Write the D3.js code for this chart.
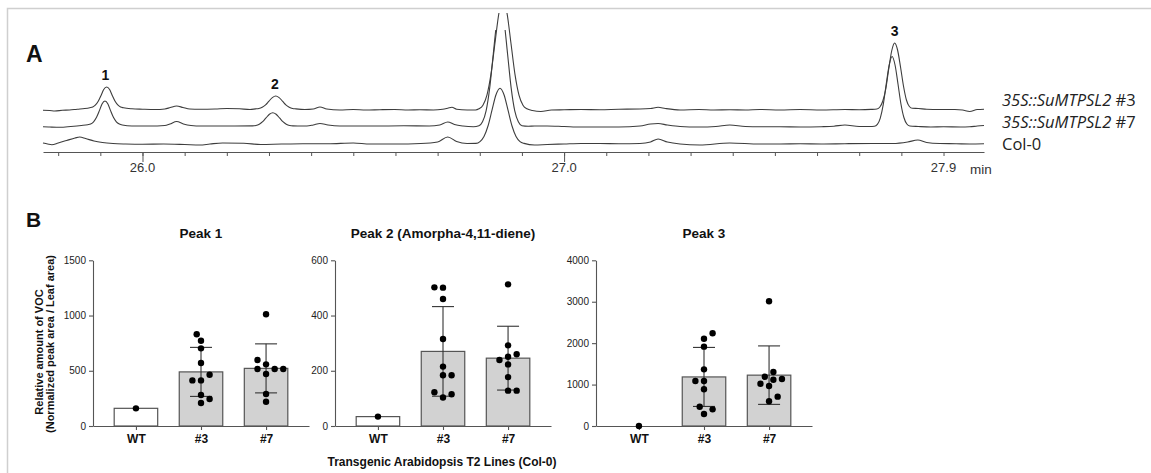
<!DOCTYPE html>
<html>
<head>
<meta charset="utf-8">
<script src="https://cdn.jsdelivr.net/npm/d3@7"></script>
<style>
  html, body { margin: 0; padding: 0; background: #fff; }
  svg { display: block; }
</style>
</head>
<body>
<svg id="fig" width="1151" height="473"></svg>
<script>
// ---------------- Panel A: GC-MS chromatogram traces ----------------
// [retention time (min), relative intensity]
const trace3 = [[25.764,-0.3],[25.780,-0.5],[25.792,-1],[25.810,-0.3],[25.827,0],[25.845,0.8],[25.863,1.5],[25.875,2.3],[25.882,3],[25.888,4.8],[25.895,8.7],[25.902,14.8],[25.908,20.5],[25.915,23],[25.922,20.5],[25.928,14.8],[25.935,8.7],[25.942,4.8],[25.948,3],[25.955,2.2],[25.975,1.2],[26.000,0.8],[26.030,0.5],[26.053,1],[26.066,2.5],[26.081,4],[26.096,2.5],[26.112,1],[26.136,0.8],[26.172,1],[26.200,1.5],[26.230,1.2],[26.255,0.5],[26.268,1.1],[26.276,1.5],[26.284,2.8],[26.292,5.2],[26.300,8.9],[26.308,12.4],[26.316,14],[26.324,12.4],[26.332,8.9],[26.340,5.2],[26.348,2.8],[26.356,1.5],[26.364,1.1],[26.385,0.5],[26.405,1],[26.421,3],[26.437,1],[26.468,0],[26.500,0.5],[26.530,0],[26.563,0.3],[26.598,0.5],[26.630,0],[26.658,0.2],[26.690,0],[26.712,0.8],[26.724,1.8],[26.734,2.7],[26.745,0.8],[26.770,0],[26.790,0],[26.798,1.2],[26.8075,4.8],[26.817,14.9],[26.8265,35.6],[26.836,66.7],[26.8455,97],[26.855,110],[26.8645,97],[26.874,66.7],[26.8835,35.6],[26.893,14.9],[26.9025,4.8],[26.912,1.2],[26.925,-0.5],[26.945,-1.5],[26.970,0],[27.000,0.2],[27.040,0.5],[27.085,0.3],[27.130,0.8],[27.180,1],[27.205,1.5],[27.223,2.7],[27.240,1.5],[27.275,0],[27.320,0.5],[27.355,0],[27.393,0.3],[27.430,0],[27.464,0.5],[27.512,0],[27.560,0.5],[27.610,0],[27.666,0.5],[27.700,0.3],[27.728,0.6],[27.742,1],[27.749,3],[27.756,9],[27.763,21],[27.770,41],[27.777,59],[27.784,67],[27.791,60],[27.798,43],[27.805,24],[27.812,10],[27.819,3.5],[27.826,1.7],[27.840,1.5],[27.860,0.8],[27.890,0.5],[27.927,0.5],[27.945,0],[27.962,-1.5],[27.980,0.5],[27.996,0.8]];

const trace7 = [[25.764,0.3],[25.780,0],[25.804,-0.3],[25.830,0.5],[25.855,1.5],[25.870,2.3],[25.877,3],[25.884,5.2],[25.891,9.7],[25.898,16.6],[25.904,23.1],[25.911,26],[25.918,23.1],[25.924,16.6],[25.931,9.7],[25.938,5.2],[25.945,3],[25.952,2],[25.975,1],[26.017,1],[26.053,1.5],[26.065,3],[26.081,5.5],[26.097,3],[26.115,1.5],[26.140,1],[26.172,1],[26.219,1],[26.261,1.1],[26.269,1.5],[26.277,2.8],[26.285,5.3],[26.293,9.1],[26.301,12.7],[26.309,14.3],[26.317,12.7],[26.325,9.1],[26.333,5.3],[26.341,2.8],[26.349,1.5],[26.357,1.1],[26.390,1],[26.405,2],[26.421,3.5],[26.440,2],[26.468,1],[26.515,1],[26.563,1],[26.620,1.2],[26.680,1],[26.705,2],[26.724,5],[26.740,2.5],[26.760,1],[26.785,0.3],[26.798,1.3],[26.8065,5.3],[26.815,16.2],[26.8235,38.9],[26.832,72.8],[26.8405,105.9],[26.849,120],[26.8575,105.9],[26.866,72.8],[26.8745,38.9],[26.883,16.2],[26.8915,5.3],[26.900,1.3],[26.915,0.8],[26.930,1],[26.960,1],[27.000,0.5],[27.040,0],[27.085,0],[27.130,0],[27.180,1],[27.205,3],[27.223,3.5],[27.245,2],[27.275,0.5],[27.320,0],[27.360,0.5],[27.393,2],[27.430,0.5],[27.464,0.3],[27.512,0.3],[27.560,0],[27.610,0.3],[27.640,0.8],[27.666,2],[27.700,0.5],[27.725,0.5],[27.736,0.7],[27.743,2.6],[27.750,8.9],[27.757,22.3],[27.764,42.7],[27.771,61.6],[27.778,70.5],[27.785,62],[27.792,43],[27.799,23],[27.806,9.5],[27.813,3],[27.820,1],[27.840,0.5],[27.870,0],[27.900,0.3],[27.940,0],[27.962,0.2],[27.980,1],[27.996,1.5]];

const traceCol0 = [[25.764,1],[25.775,0],[25.785,-0.7],[25.800,1],[25.820,3.5],[25.840,6],[25.851,7],[25.865,5.5],[25.885,3],[25.905,1.5],[25.930,0.5],[25.960,0],[26.000,-0.3],[26.050,0],[26.100,-0.5],[26.136,-1],[26.160,0],[26.190,1],[26.240,0.8],[26.280,-0.5],[26.330,0],[26.380,0.3],[26.440,0.2],[26.500,1],[26.540,0],[26.600,0],[26.660,0.5],[26.700,2],[26.724,7],[26.745,2.5],[26.770,0.5],[26.791,0.6],[26.8005,2.4],[26.810,7.5],[26.8195,18],[26.829,33.8],[26.8385,49.2],[26.848,55.7],[26.8575,49.2],[26.867,33.8],[26.8765,18],[26.886,7.5],[26.8955,2.4],[26.905,0.6],[26.930,-1],[26.960,-0.5],[27.000,0],[27.040,0.5],[27.085,0.5],[27.130,0.3],[27.180,0.5],[27.205,2],[27.223,5],[27.245,2],[27.275,0],[27.322,-1],[27.393,1],[27.464,0],[27.512,0],[27.560,0.3],[27.610,0],[27.666,0.3],[27.732,0.5],[27.780,0.5],[27.815,2],[27.839,4],[27.860,1.5],[27.891,0.5],[27.930,0.3],[27.962,0],[27.996,0.2]];

const traceGenes = ["35S::SuMTPSL2", "35S::SuMTPSL2", "Col-0"];
const traceTags = [" #3", " #7", ""];
const timeDomain = [25.764, 27.996];
const timeMinorTicks = [25.8,25.9,26.0,26.1,26.2,26.3,26.4,26.5,26.6,26.7,26.8,26.9,27.0,27.1,27.2,27.3,27.4,27.5,27.6,27.7,27.8,27.9];
const timeMajorTicks = [26.0, 27.0];
const timeTickLabels = [26.0, 27.0, 27.9];
const peakNames = ["1", "2", "3"];
const peakTimes = [25.912, 26.314, 27.784];

// ---------------- Panel B: relative VOC amounts ----------------
const lineNames = ["WT", "#3", "#7"];
const peak1WT = [160];
const peak1L3 = [830, 772, 703, 570, 464, 413, 413, 281, 244, 208];
const peak1L7 = [1011, 597, 558, 516, 516, 516, 471, 290, 220];
const peak2WT = [34];
const peak2L3 = [502, 501, 460, 315, 215, 184, 184, 122, 115, 103];
const peak2L7 = [513, 292, 251, 260, 239, 223, 177, 128, 128];
const peak3WT = [0];
const peak3L3 = [2238, 2108, 1915, 1368, 1086, 1086, 886, 466, 402, 290];
const peak3L7 = [3010, 1304, 1190, 1135, 1118, 1021, 966, 708, 596];
const panelTitles = ["Peak 1", "Peak 2 (Amorpha-4,11-diene)", "Peak 3"];
const panelYTicks = [[0, 500, 1000, 1500], [0, 200, 400, 600], [0, 1000, 2000, 3000, 4000]];

// ------------------------------------------------------------------
const svg = d3.select("#fig");
const FONT = "'Liberation Sans', Arial, Helvetica, sans-serif";

// light frame around the figure
svg.append("path")
  .attr("d", "M7.5,473 V8.5 H1151")
  .attr("fill", "none").attr("stroke", "#cfcfcf").attr("stroke-width", 1.5);

// ---- Panel A ----
svg.append("text").attr("x", 26).attr("y", 62)
  .attr("font-family", FONT).attr("font-weight", "bold").attr("font-size", 23)
  .attr("fill", "#111").text("A");

const xTime = d3.scaleLinear().domain(timeDomain).range([43, 984]);
const yInt = d3.scaleLinear().domain([0, 100]).range([0, -100]);
const traceLine = d3.line()
  .x(d => xTime(d[0])).y(d => yInt(d[1]))
  .curve(d3.curveMonotoneX);

const traceLayout = [
  { data: trace3, base: 110, ceil: 97 },
  { data: trace7, base: 127, ceil: 97 },
  { data: traceCol0, base: 144, ceil: 140 }
];

const defs = svg.append("defs");
traceLayout.forEach((t, i) => {
  defs.append("clipPath").attr("id", "clipTrace" + i)
    .append("rect").attr("x", 0).attr("y", yInt(t.ceil))
    .attr("width", 1151).attr("height", 200);
  svg.append("g").attr("transform", `translate(0,${t.base})`)
    .append("path")
    .attr("clip-path", `url(#clipTrace${i})`)
    .attr("d", traceLine(t.data))
    .attr("fill", "none").attr("stroke", "#3d3d3d")
    .attr("stroke-width", 1.1).attr("stroke-linejoin", "round");
});

// peak numbers above the #3 trace
peakNames.forEach((name, i) => {
  const near = trace3.filter(d => Math.abs(d[0] - peakTimes[i]) < 0.02);
  const top = d3.max(near, d => d[1]);
  svg.append("text")
    .attr("x", xTime(peakTimes[i])).attr("y", traceLayout[0].base + yInt(top) - 7)
    .attr("text-anchor", "middle")
    .attr("font-family", FONT).attr("font-weight", "bold").attr("font-size", 14)
    .attr("fill", "#111").text(name);
});

// time axis
const axA = svg.append("g").attr("transform", "translate(0,152)");
axA.call(d3.axisBottom(xTime).tickValues(timeMinorTicks).tickSize(4).tickSizeOuter(0).tickFormat(""));
axA.append("g").call(d3.axisBottom(xTime).tickValues(timeMajorTicks).tickSize(10).tickSizeOuter(0).tickFormat(""))
  .select(".domain").remove();
axA.selectAll("path, line").attr("stroke", "#555");
axA.selectAll(".tick text").remove();
timeTickLabels.forEach(t => {
  svg.append("text").attr("x", xTime(t)).attr("y", 171.5)
    .attr("text-anchor", "middle").attr("font-family", FONT).attr("font-size", 13)
    .attr("fill", "#333").text(d3.format(".1f")(t));
});
svg.append("text").attr("x", 981).attr("y", 174)
  .attr("text-anchor", "middle").attr("font-family", FONT).attr("font-size", 13.5)
  .attr("fill", "#333").text("min");

// trace names
const legendY = [105.5, 127.6, 149.5];
traceGenes.forEach((g, i) => {
  const t = svg.append("text").attr("x", 1002).attr("y", legendY[i])
    .attr("font-family", "'Open Sans', 'Noto Sans', sans-serif").attr("font-size", 16.5)
    .attr("fill", "#222");
  if (traceTags[i]) {
    t.append("tspan").attr("font-style", "italic").text(g);
    t.append("tspan").text(traceTags[i]);
  } else {
    t.text(g);
  }
});

// ---- Panel B ----
svg.append("text").attr("x", 26).attr("y", 226.7)
  .attr("font-family", FONT).attr("font-weight", "bold").attr("font-size", 21)
  .attr("fill", "#111").text("B");

const panels = [
  { groups: [peak1WT, peak1L3, peak1L7], left: 93 },
  { groups: [peak2WT, peak2L3, peak2L7], left: 335 },
  { groups: [peak3WT, peak3L3, peak3L7], left: 596 }
];
const plotW = 216, plotTop = 260.3, plotBottom = 426;
const barW = 43.5, dotR = 3.2;

// horizontal spread of points that would overlap (column scatter)
function spread(values, y) {
  const placed = [];
  const out = new Array(values.length);
  const order = values.map((v, i) => ({ v, i })).sort((a, b) => a.v - b.v);
  const minDist = 2 * dotR + 1.1, step = 4.3;
  let bias = 0;
  for (const o of order) {
    const py = y(o.v);
    let dx = 0;
    for (let k = 0; k < 30; k++) {
      const cands = k === 0 ? [0] : (bias > 0 ? [-k * step, k * step] : [k * step, -k * step]);
      const ok = cands.find(c => placed.every(p => Math.hypot(p.x - c, p.y - py) >= minDist));
      if (ok !== undefined) { dx = ok; break; }
    }
    placed.push({ x: dx, y: py });
    bias += dx;
    out[o.i] = dx;
  }
  return out;
}

panels.forEach((p, pi) => {
  const ticks = panelYTicks[pi];
  const g = svg.append("g").attr("transform", `translate(${p.left},0)`);
  const y = d3.scaleLinear().domain([0, d3.max(ticks)]).range([plotBottom, plotTop]);
  const x = d3.scalePoint().domain(lineNames).range([0, plotW]).padding(0.66);

  // title
  g.append("text").attr("x", plotW / 2).attr("y", 238)
    .attr("text-anchor", "middle").attr("font-family", FONT)
    .attr("font-weight", "bold").attr("font-size", 13.5).attr("fill", "#111")
    .text(panelTitles[pi]);

  // bars (group means)
  p.groups.forEach((vals, gi) => {
    const m = d3.mean(vals);
    g.append("rect")
      .attr("x", x(lineNames[gi]) - barW / 2).attr("y", y(m))
      .attr("width", barW).attr("height", y(0) - y(m))
      .attr("fill", gi === 0 ? "#fff" : "#d2d2d2")
      .attr("stroke", "#555").attr("stroke-width", 1.2);
  });

  // axes
  const ay = g.append("g").call(d3.axisLeft(y).tickValues(ticks).tickFormat(d3.format("d"))
    .tickSize(4).tickPadding(3).tickSizeOuter(0));
  ay.selectAll("text").attr("font-family", FONT).attr("font-size", 10).attr("fill", "#222");
  const ax = g.append("g").attr("transform", `translate(0,${plotBottom})`)
    .call(d3.axisBottom(x).tickSize(4).tickPadding(4).tickSizeOuter(0));
  ax.selectAll("text").attr("font-family", FONT).attr("font-size", 12)
    .attr("font-weight", "bold").attr("fill", "#111");
  g.selectAll(".domain, .tick line").attr("stroke", "#555").attr("stroke-width", 1.1);

  // error bars (mean ± SD)
  p.groups.forEach((vals, gi) => {
    if (vals.length < 2) return;
    const m = d3.mean(vals), sd = d3.deviation(vals);
    const cx = x(lineNames[gi]);
    const eb = g.append("g").attr("stroke", "#333").attr("stroke-width", 1.1);
    eb.append("line").attr("x1", cx).attr("x2", cx).attr("y1", y(m - sd)).attr("y2", y(m + sd));
    [m - sd, m + sd].forEach(v => eb.append("line")
      .attr("x1", cx - 11).attr("x2", cx + 11).attr("y1", y(v)).attr("y2", y(v)));
  });

  // individual plants
  p.groups.forEach((vals, gi) => {
    const offs = spread(vals, y);
    g.selectAll(null).data(vals).enter().append("circle")
      .attr("cx", (d, i) => x(lineNames[gi]) + offs[i])
      .attr("cy", d => y(d)).attr("r", dotR).attr("fill", "#000");
  });
});

// shared axis titles
svg.append("text").attr("transform", "translate(43.3,352) rotate(-90)")
  .attr("text-anchor", "middle").attr("font-family", FONT).attr("font-weight", "bold")
  .attr("font-size", 11).attr("fill", "#111").text("Relative amount of VOC");
svg.append("text").attr("transform", "translate(54,344) rotate(-90)")
  .attr("text-anchor", "middle").attr("font-family", FONT).attr("font-weight", "bold")
  .attr("font-size", 11).attr("fill", "#111").text("(Normalized peak area / Leaf area)");
svg.append("text").attr("x", 442).attr("y", 466)
  .attr("text-anchor", "middle").attr("font-family", FONT).attr("font-weight", "bold")
  .attr("font-size", 12).attr("fill", "#111").text("Transgenic Arabidopsis T2 Lines (Col-0)");
</script>
</body>
</html>
